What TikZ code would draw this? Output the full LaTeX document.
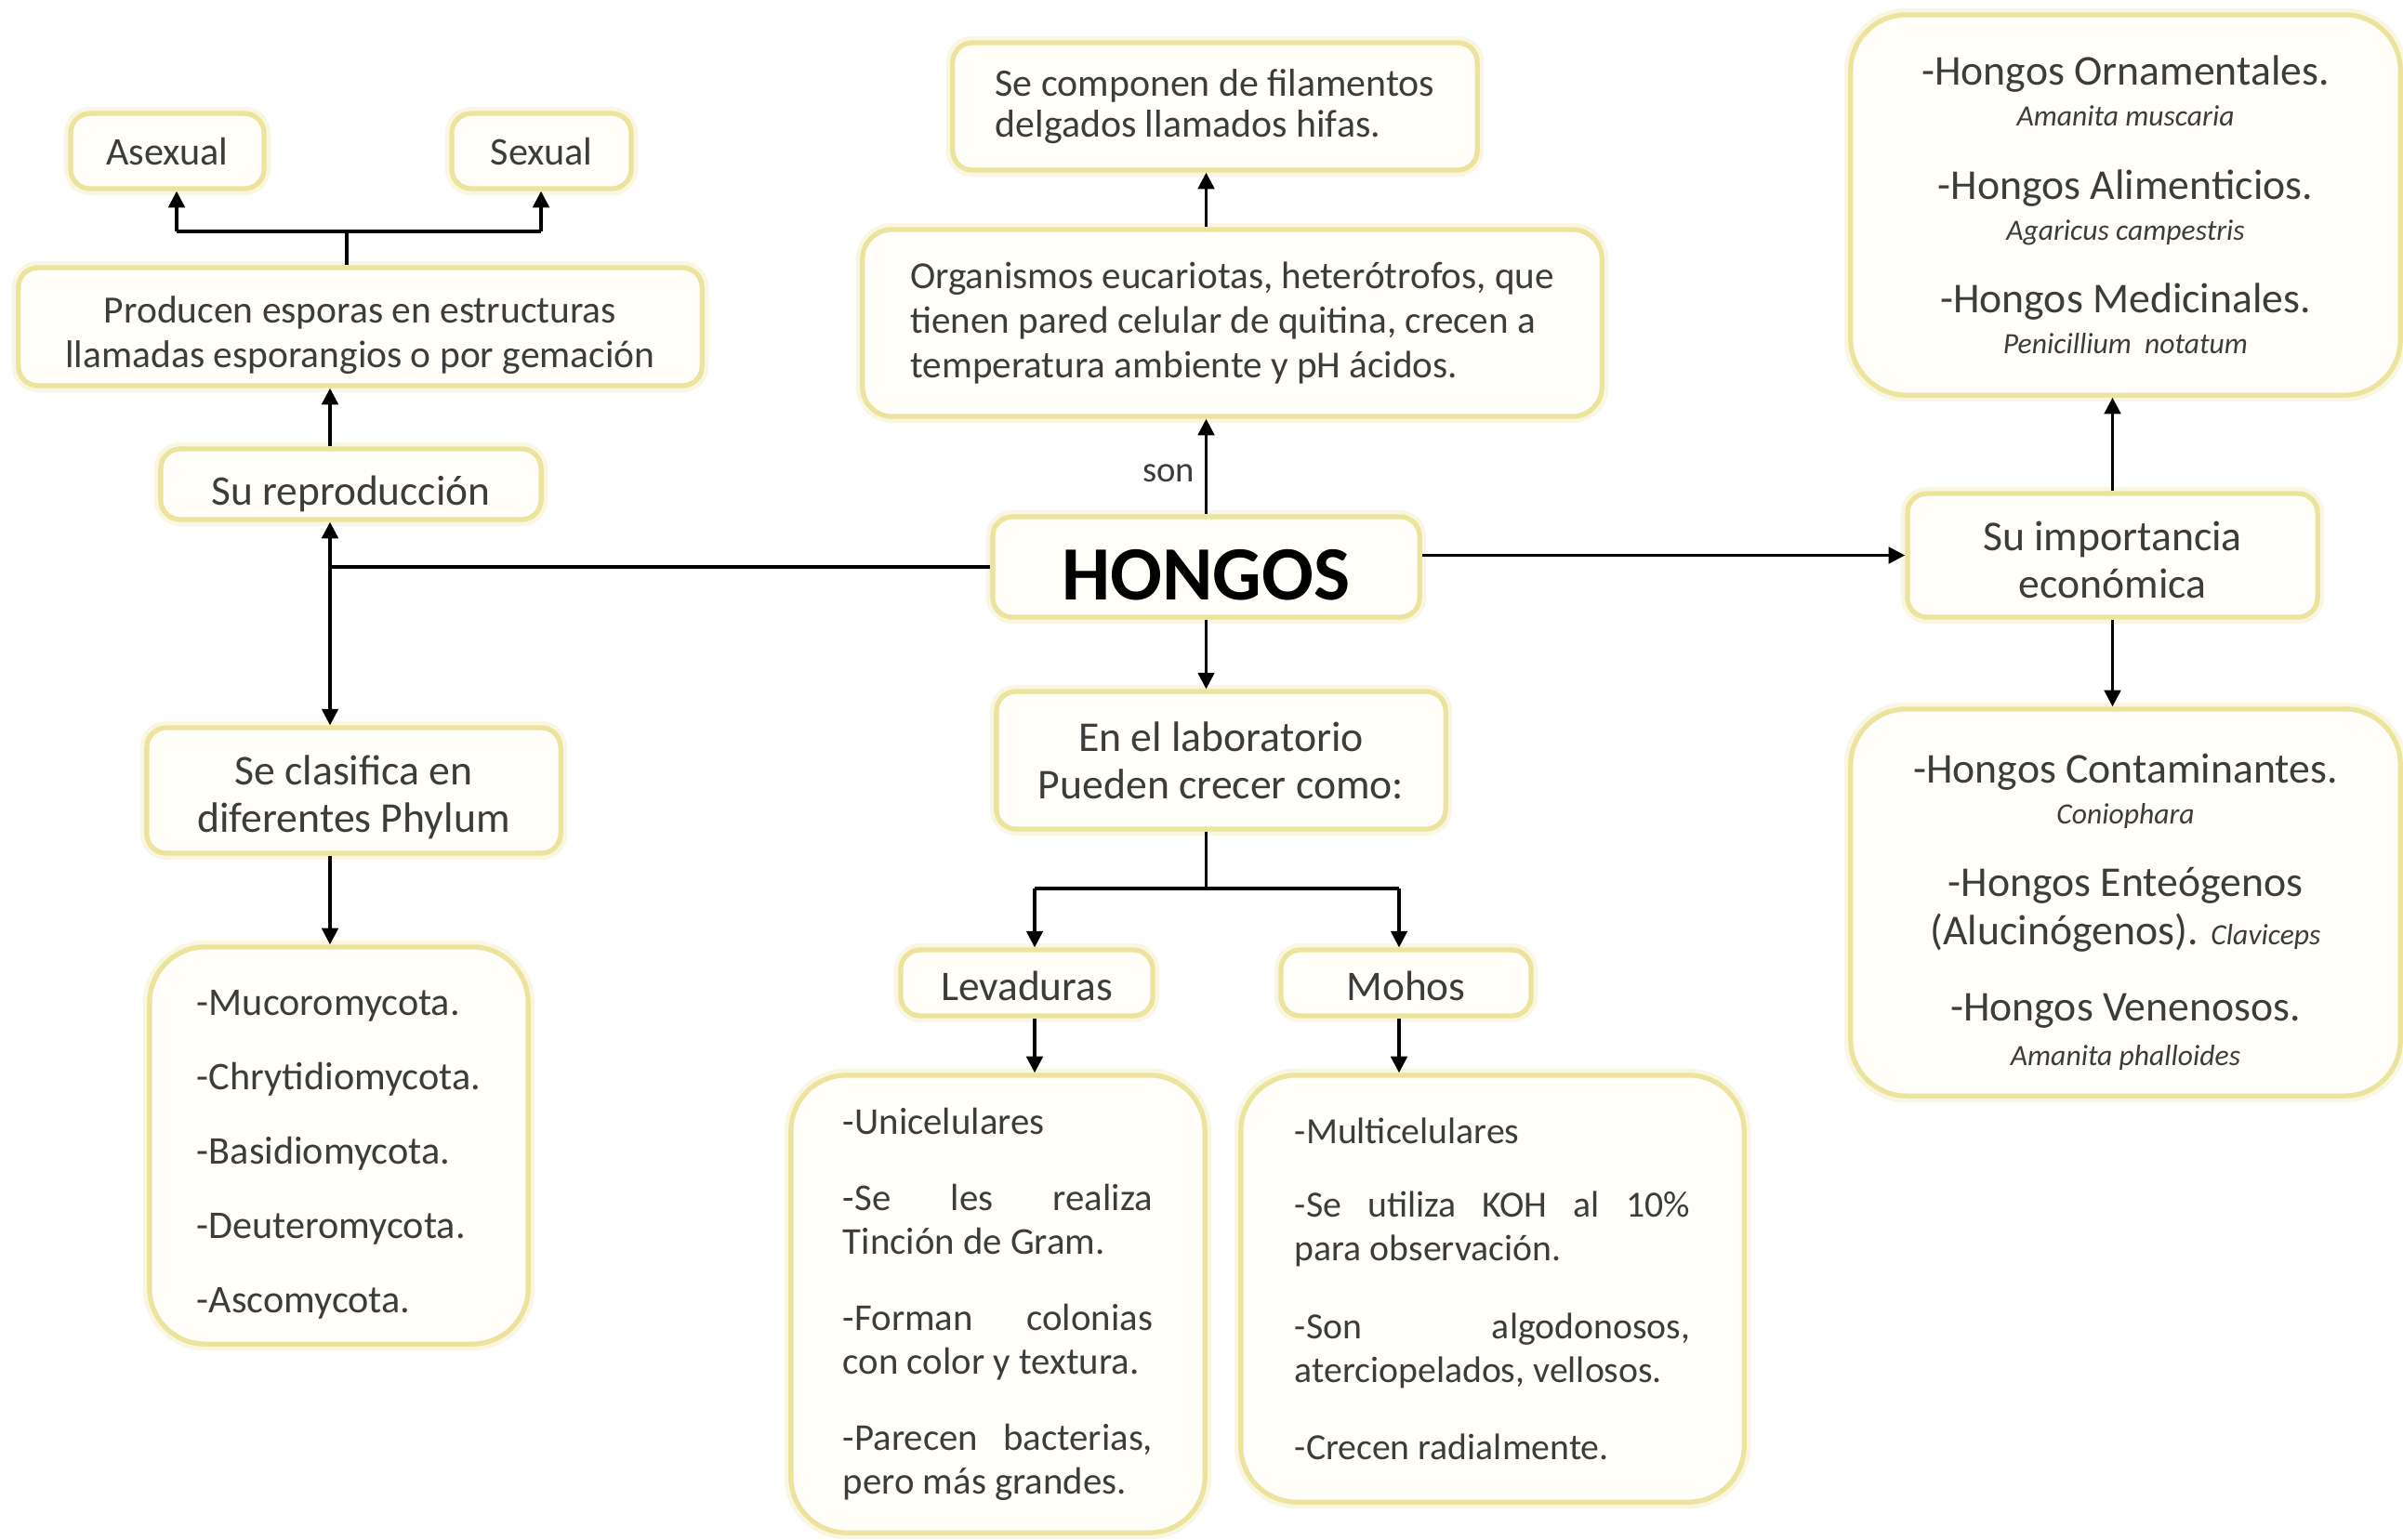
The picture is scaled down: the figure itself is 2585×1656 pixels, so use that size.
\documentclass[tikz,border=0pt]{standalone}
\usepackage{fontspec}
\setmainfont{Carlito}
\usetikzlibrary{arrows.meta}
\definecolor{bordc}{RGB}{236,228,156}
\definecolor{boxfill}{RGB}{255,254,248}
\definecolor{txt}{RGB}{60,60,60}
\newcommand\myfs[2]{\fontsize{#1}{#2}\selectfont}
\newcommand\st[1]{\rule{0pt}{#1}}
\begin{document}
\begin{tikzpicture}[x=0.01cm,y=-0.01cm,
  box/.style={draw=bordc, line width=1.5pt, fill=boxfill, rounded corners=6pt, text=txt, inner sep=0pt,
    preaction={draw=bordc!30, line width=4pt}},
  bigbox/.style={box, rounded corners=17pt},
  arr/.style={line width=0.9pt, -{Triangle[length=5pt,width=5pt]}},
  ln/.style={line width=0.9pt}]
\useasboundingbox (0,0) rectangle (2585,1656);
\fill[white] (0,0) rectangle (2585,1656);

% left branch
\node[box, minimum width=2.08cm, minimum height=0.81cm, font=\myfs{12}{13}] (asex) at (180,162.5) {Asexual};
\node[box, minimum width=1.93cm, minimum height=0.81cm, font=\myfs{12}{13}] (sex) at (582.5,162.5) {Sexual};
\node[box, minimum width=7.35cm, minimum height=1.27cm, align=center, font=\myfs{11.8}{13.7}] (prod) at (387.5,351.5)
  {\st{13.5pt}Producen esporas en estructuras\\llamadas esporangios o por gemación};
\node[box, minimum width=4.09cm, minimum height=0.76cm, font=\myfs{12.9}{14}] (repro) at (377.5,521) {\st{15pt}Su reproducción};
\node[box, minimum width=4.45cm, minimum height=1.35cm, align=center, font=\myfs{13}{14.5}] (clas) at (380.5,850.5)
  {\st{13.3pt}Se clasifica en\\diferentes Phylum};
\node[bigbox, minimum width=4.07cm, minimum height=4.27cm, align=left, font=\myfs{12}{22.8}] (phyl) at (364.5,1232.5)
  {\st{13.3pt}-Mucoromycota.\\-Chrytidiomycota.\\-Basidiomycota.\\-Deuteromycota.\\-Ascomycota.};

% centre
\node[box, minimum width=5.64cm, minimum height=1.37cm, align=left, font=\myfs{11.9}{12.5}] (comp) at (1307,114.5)
  {Se componen de filamentos\\delgados llamados hifas.};
\node[box, rounded corners=9pt, minimum width=7.95cm, minimum height=2.01cm, align=left, font=\myfs{11.7}{13.7}] (org) at (1325.5,347.5)
  {Organismos eucariotas, heterótrofos, que\\tienen pared celular de quitina, crecen a\\temperatura ambiente y pH ácidos.};
\node[box, minimum width=4.59cm, minimum height=1.08cm, font=\myfs{23.5}{25}\bfseries, text=black] (hongos) at (1297.5,610) {\st{20.6pt}HONGOS};
\node[text=txt, font=\myfs{11}{12}, inner sep=0pt] (son) at (1257,509) {son};
\node[box, minimum width=4.83cm, minimum height=1.48cm, align=center, font=\myfs{13}{14.5}] (lab) at (1313.5,818)
  {En el laboratorio\\Pueden crecer como:};
\node[box, minimum width=2.71cm, minimum height=0.71cm, font=\myfs{12.9}{14}] (lev) at (1104.5,1057.5) {\st{11pt}Levaduras};
\node[box, minimum width=2.69cm, minimum height=0.71cm, font=\myfs{12.9}{14}] (moh) at (1512.5,1057.5) {\st{11pt}Mohos};
\node[bigbox, minimum width=4.45cm, minimum height=4.92cm, text width=3.33cm, align=justify, font=\myfs{11.6}{13.4}] (uni) at (1073.5,1403)
  {-Unicelulares\\[9.9pt]-Se les realiza\linebreak Tinción de Gram.\\[9.9pt]-Forman colonias\linebreak con color y textura.\\[9.9pt]-Parecen bacterias,\linebreak pero más grandes.};
\node[bigbox, minimum width=5.41cm, minimum height=4.59cm, text width=4.25cm, align=justify, font=\myfs{11.3}{13.5}] (mul) at (1605.5,1386.5)
  {-Multicelulares\\[9pt]-Se utiliza KOH al 10\%\linebreak para observación.\\[10.3pt]-Son algodonosos,\linebreak \mbox{aterciopelados, vellosos.}\\[9.9pt]-Crecen radialmente.};

% right branch
\node[bigbox, minimum width=5.91cm, minimum height=4.09cm, align=center, font=\myfs{13}{12.5}] (topl) at (2286.5,220.5)
  {-Hongos Ornamentales.\\{\myfs{9}{12.5}\itshape Amanita muscaria}\\[9.8pt]-Hongos Alimenticios.\\{\myfs{9}{12.5}\itshape Agaricus campestris}\\[9.8pt]-Hongos Medicinales.\\{\myfs{9}{12.5}\itshape Penicillium\ \ notatum}};
\node[box, minimum width=4.41cm, minimum height=1.33cm, align=center, font=\myfs{13}{14.5}] (imp) at (2272.5,597.5)
  {\st{11.8pt}Su importancia\\económica};
\node[bigbox, minimum width=5.91cm, minimum height=4.16cm, align=center, font=\myfs{13}{12.5}] (botl) at (2286.5,971)
  {\st{14.8pt}-Hongos Contaminantes.\\{\myfs{9}{12.5}\itshape Coniophara}\\[9.7pt]-Hongos Enteógenos\\[2.5pt](Alucinógenos). {\myfs{9}{12.5}\itshape Claviceps}\\[10.8pt]-Hongos Venenosos.\\[1.2pt]{\myfs{9}{12.5}\itshape Amanita phalloides}};

% connectors
\coordinate (J) at (355,610);
\draw[ln] (hongos.west) -- (J);
\draw[arr] (J) -- (J |- repro.south);
\draw[arr] (J) -- (J |- clas.north);
\draw[arr] (J |- repro.north) -- (J |- prod.south);
\draw[arr] (J |- clas.south) -- (J |- phyl.north);
\coordinate (P) at (373,249);
\coordinate (PA) at (190,249);
\coordinate (PS) at (582,249);
\draw[ln] (P |- prod.north) -- (P);
\draw[ln] (PA) -- (PS);
\draw[arr] (PA) -- (PA |- asex.south);
\draw[arr] (PS) -- (PS |- sex.south);

\draw[arr] (hongos.north) -- (hongos.north |- org.south);
\draw[arr] (hongos.north |- org.north) -- (hongos.north |- comp.south);
\draw[arr] (hongos.south) -- (hongos.south |- lab.north);
\coordinate (L) at (1297.5,956);
\coordinate (LL) at (1113,956);
\coordinate (LR) at (1505,956);
\draw[ln] (hongos.south |- lab.south) -- (L);
\draw[ln] (LL) -- (LR);
\draw[arr] (LL) -- (LL |- lev.north);
\draw[arr] (LR) -- (LR |- moh.north);
\draw[arr] (LL |- lev.south) -- (LL |- uni.north);
\draw[arr] (LR |- moh.south) -- (LR |- mul.north);

\draw[arr] (hongos.east |- imp.west) -- (imp.west);
\draw[arr] (imp.north) -- (imp.north |- topl.south);
\draw[arr] (imp.south) -- (imp.south |- botl.north);
\end{tikzpicture}
\end{document}
